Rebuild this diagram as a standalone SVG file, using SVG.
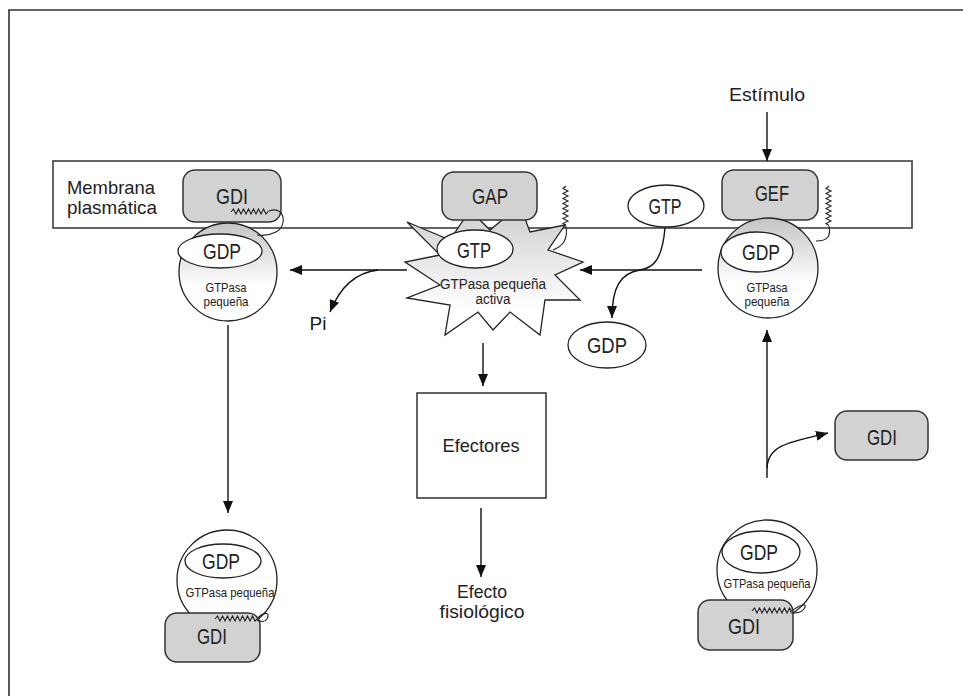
<svg xmlns="http://www.w3.org/2000/svg" width="963" height="696" viewBox="0 0 963 696">
<defs>
<linearGradient id="gc" x1="0" y1="0" x2="0" y2="1">
<stop offset="0" stop-color="#c4c4c4"/>
<stop offset="0.65" stop-color="#ffffff"/>
</linearGradient>
<linearGradient id="gs" x1="0" y1="0" x2="0" y2="1">
<stop offset="0" stop-color="#cccccc"/>
<stop offset="0.8" stop-color="#ffffff"/>
</linearGradient>
<marker id="ah" markerWidth="12" markerHeight="10" refX="12" refY="5" orient="auto" markerUnits="userSpaceOnUse">
<path d="M0,0 L12,5 L0,10 Z" fill="#111"/>
</marker>
<style>
text{font-family:"Liberation Sans",Arial,sans-serif;fill:#222;text-anchor:middle}
.big{font-size:22px}
.med{font-size:19px}
.sm{font-size:13.5px}
.box{fill:#d2d2d2;stroke:#333;stroke-width:1.5}
.ell{fill:#fff;stroke:#222;stroke-width:1.3}
.circ{fill:url(#gc);stroke:#222;stroke-width:1.3}
.ln{fill:none;stroke:#111;stroke-width:1.4}
.zz{fill:none;stroke:#222;stroke-width:1.1}
</style>
</defs>
<rect width="963" height="696" fill="#fff"/>
<path d="M9,696 V10 H963" fill="none" stroke="#333" stroke-width="1.6"/>

<g id="membrana">
<rect x="53" y="161" width="859" height="67" fill="none" stroke="#555" stroke-width="1.8"/>
<text x="67" y="194" class="med" style="text-anchor:start" textLength="88" lengthAdjust="spacingAndGlyphs">Membrana</text>
<text x="67" y="214" class="med" style="text-anchor:start" textLength="90" lengthAdjust="spacingAndGlyphs">plasmática</text>
</g>

<g id="estimulo">
<text x="767" y="101" class="med" textLength="76" lengthAdjust="spacingAndGlyphs">Estímulo</text>
</g>

<g id="gtpasa-gdi-membrana">
<rect x="183" y="170" width="98" height="52" rx="12" class="box"/>
<text x="232" y="204" class="big" textLength="32" lengthAdjust="spacingAndGlyphs">GDI</text>
<circle cx="228" cy="272" r="49" class="circ"/>
<ellipse cx="220" cy="251" rx="42" ry="17" class="ell"/>
<text x="222" y="259" class="big" textLength="38" lengthAdjust="spacingAndGlyphs">GDP</text>
<text x="226" y="292" class="sm" textLength="41" lengthAdjust="spacingAndGlyphs">GTPasa</text>
<text x="226" y="306" class="sm" textLength="45" lengthAdjust="spacingAndGlyphs">pequeña</text>
<path class="zz" d="M231,212 l2.5,-3 l2.5,5 l2.5,-5 l2.5,5 l2.5,-5 l2.5,5 l2.5,-5 l2.5,5 l2.5,-5 l2.5,5 l2.5,-5 l2.5,5 l2.5,-5 l2.5,5 l2.5,-3"/>
<path class="zz" d="M269,211 C285,205 288,226 276,232 C270,235 263,236 257,235"/>
</g>

<g id="gtpasa-activa">
<polygon points="407,222 450,240 470,210 490,230 520,205 530,232 565,225 548,250 583,262 555,275 580,300 545,300 540,335 510,312 493,330 478,312 445,335 450,305 407,298 440,285 405,262 440,255" fill="url(#gs)" stroke="#222" stroke-width="1.3"/>
<rect x="442" y="172" width="95" height="48" rx="12" class="box"/>
<text x="490" y="204" class="big" textLength="36" lengthAdjust="spacingAndGlyphs">GAP</text>
<ellipse cx="475" cy="249" rx="38" ry="19" class="ell"/>
<text x="474" y="258" class="big" textLength="34" lengthAdjust="spacingAndGlyphs">GTP</text>
<text x="493" y="289" style="font-size:14px" textLength="106" lengthAdjust="spacingAndGlyphs">GTPasa pequeña</text>
<text x="493" y="304" style="font-size:14px" textLength="35" lengthAdjust="spacingAndGlyphs">activa</text>
<path class="zz" d="M566,186 l-3,2.5 l5,2.5 l-5,2.5 l5,2.5 l-5,2.5 l5,2.5 l-5,2.5 l5,2.5 l-5,2.5 l5,2.5 l-5,2.5 l5,2.5 l-5,2.5 l5,2.5 l-5,2.5 l3,2"/>
<path class="zz" d="M566,226 C568,240 563,246 553,250"/>
</g>

<g id="gtp-libre">
<ellipse cx="666" cy="206" rx="38" ry="21" class="ell"/>
<text x="665" y="214" class="big" textLength="33" lengthAdjust="spacingAndGlyphs">GTP</text>
</g>

<g id="gdp-libre">
<ellipse cx="607" cy="345" rx="39" ry="23" class="ell"/>
<text x="607" y="353" class="big" textLength="40" lengthAdjust="spacingAndGlyphs">GDP</text>
</g>

<g id="gtpasa-gef">
<rect x="722" y="170" width="96" height="50" rx="12" class="box"/>
<text x="772" y="201" class="big" textLength="34" lengthAdjust="spacingAndGlyphs">GEF</text>
<circle cx="768" cy="268" r="50" class="circ"/>
<ellipse cx="757" cy="252" rx="36" ry="20" class="ell"/>
<text x="761" y="260" class="big" textLength="38" lengthAdjust="spacingAndGlyphs">GDP</text>
<text x="767" y="292" class="sm" textLength="41" lengthAdjust="spacingAndGlyphs">GTPasa</text>
<text x="767" y="306" class="sm" textLength="45" lengthAdjust="spacingAndGlyphs">pequeña</text>
<path class="zz" d="M829,186 l-3,2.5 l5,2.5 l-5,2.5 l5,2.5 l-5,2.5 l5,2.5 l-5,2.5 l5,2.5 l-5,2.5 l5,2.5 l-5,2.5 l5,2.5 l-5,2.5 l5,2.5 l-5,2.5 l3,2"/>
<path class="zz" d="M829,226 C831,236 828,241 816,241"/>
</g>

<g id="efectores">
<rect x="417" y="393" width="129" height="105" fill="#fff" stroke="#222" stroke-width="1.4"/>
<text x="481" y="452" class="med" textLength="77" lengthAdjust="spacingAndGlyphs">Efectores</text>
</g>

<g id="efecto-fisiologico">
<text x="482" y="598" class="med" textLength="50" lengthAdjust="spacingAndGlyphs">Efecto</text>
<text x="482" y="618" class="med" textLength="85" lengthAdjust="spacingAndGlyphs">fisiológico</text>
</g>

<g id="pi">
<text x="318" y="330" class="med">Pi</text>
</g>

<g id="gdi-libre">
<rect x="835" y="411" width="93" height="49" rx="12" class="box"/>
<text x="882" y="445" class="big" textLength="30" lengthAdjust="spacingAndGlyphs">GDI</text>
</g>

<g id="gtpasa-gdi-izq">
<circle cx="227" cy="580" r="50" fill="#fff" stroke="#222" stroke-width="1.3"/>
<ellipse cx="223" cy="561" rx="38" ry="17" class="ell"/>
<text x="221" y="569" class="big" textLength="38" lengthAdjust="spacingAndGlyphs">GDP</text>
<text x="230" y="597" class="sm" textLength="89" lengthAdjust="spacingAndGlyphs">GTPasa pequeña</text>
<rect x="165" y="613" width="95" height="49" rx="12" class="box"/>
<text x="212" y="644" class="big" textLength="30" lengthAdjust="spacingAndGlyphs">GDI</text>
<path class="zz" d="M215,619 l2.5,-3 l2.5,5 l2.5,-5 l2.5,5 l2.5,-5 l2.5,5 l2.5,-5 l2.5,5 l2.5,-5 l2.5,5 l2.5,-5 l2.5,5 l2.5,-5 l2.5,5 l2.5,-5 l2.5,5 l2,-2"/>
<path class="zz" d="M257,619 C263,612 271,611 267,619 C265,622 261,622 257,620"/>
</g>

<g id="gtpasa-gdi-der">
<circle cx="767" cy="570" r="50" fill="#fff" stroke="#222" stroke-width="1.3"/>
<ellipse cx="761" cy="552" rx="39" ry="21" class="ell"/>
<text x="759" y="560" class="big" textLength="38" lengthAdjust="spacingAndGlyphs">GDP</text>
<text x="767" y="588" class="sm" textLength="87" lengthAdjust="spacingAndGlyphs">GTPasa pequeña</text>
<rect x="698" y="600" width="95" height="50" rx="12" class="box"/>
<text x="744" y="634" class="big" textLength="32" lengthAdjust="spacingAndGlyphs">GDI</text>
<path class="zz" d="M752,611 l2.5,-3 l2.5,5 l2.5,-5 l2.5,5 l2.5,-5 l2.5,5 l2.5,-5 l2.5,5 l2.5,-5 l2.5,5 l2.5,-5 l2.5,5 l2.5,-5 l2.5,5 l2.5,-5 l2,3"/>
<path class="zz" d="M790,612 C798,606 809,601 804,609 C801,613 796,613 791,613"/>
</g>

<g id="conectores">
<path class="ln" d="M767,112 V161" marker-end="url(#ah)"/>
<path class="ln" d="M407,270 H290" marker-end="url(#ah)"/>
<path class="ln" d="M378,270 C360,272 342,282 330,312" marker-end="url(#ah)"/>
<path class="ln" d="M702,270 H580" marker-end="url(#ah)"/>
<path class="ln" d="M665,228 C662,262 652,268 640,270 C620,273 612,288 612,318" marker-end="url(#ah)"/>
<path class="ln" d="M483,343 V386" marker-end="url(#ah)"/>
<path class="ln" d="M481,508 V577" marker-end="url(#ah)"/>
<path class="ln" d="M228,325 V513" marker-end="url(#ah)"/>
<path class="ln" d="M767,478 V330" marker-end="url(#ah)"/>
<path class="ln" d="M767,468 C768,445 790,442 828,433" marker-end="url(#ah)"/>
</g>
</svg>
